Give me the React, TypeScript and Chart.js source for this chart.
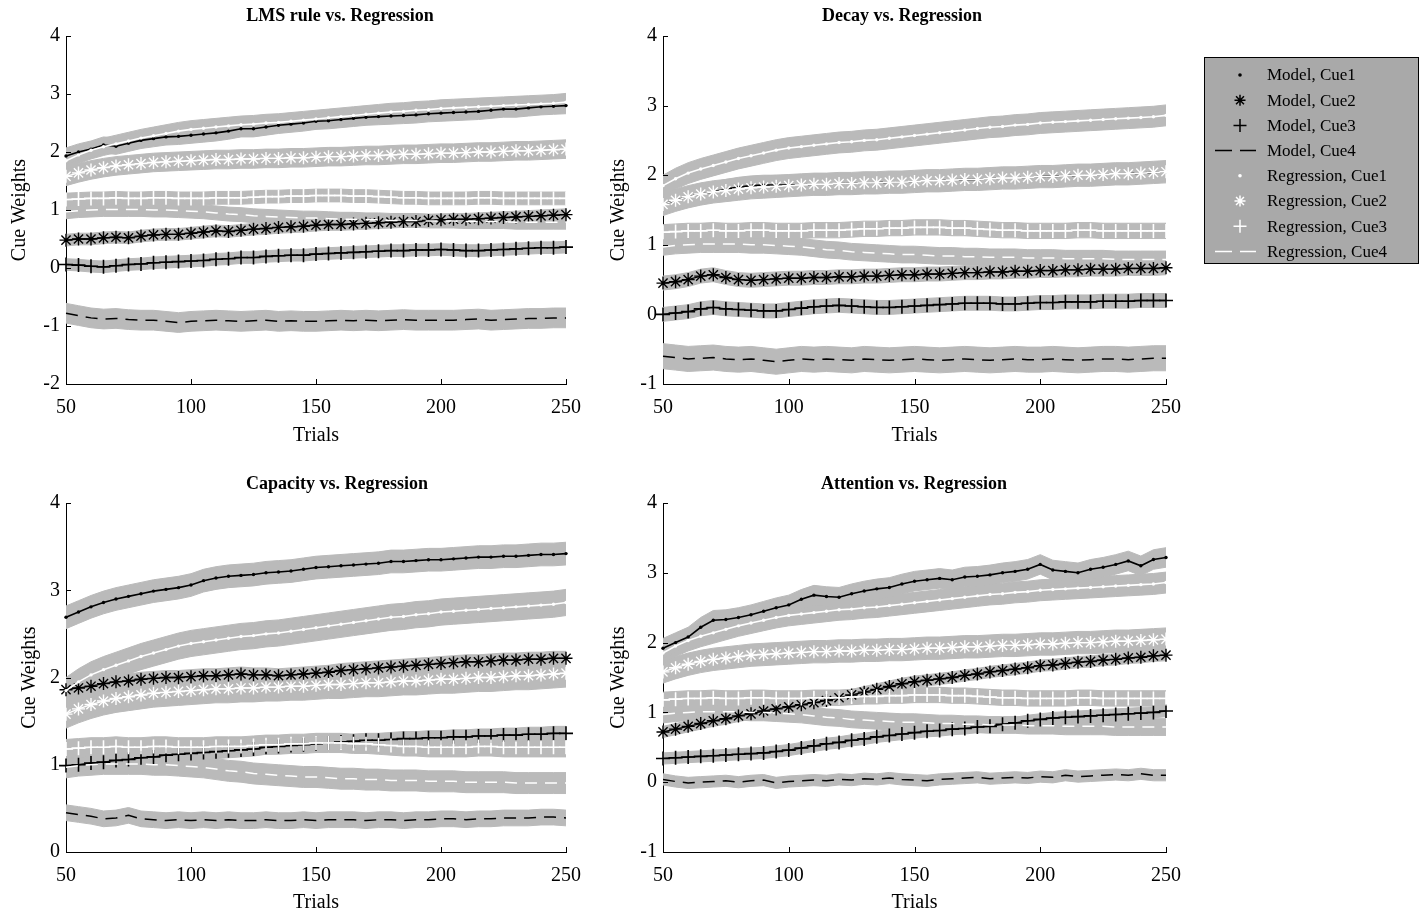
import React, { useEffect, useRef } from "react";
import { Chart, registerables } from "chart.js";

Chart.register(...registerables);

// ---------------- DATA ----------------
const TRIALS = [
  50, 55, 60, 65, 70, 75, 80, 85, 90, 95, 100, 105, 110, 115, 120, 125, 130, 135, 140, 145, 150,
  155, 160, 165, 170, 175, 180, 185, 190, 195, 200, 205, 210, 215, 220, 225, 230, 235, 240, 245, 250,
];
const X_TICKS = [50, 100, 150, 200, 250];

// Regression (same human-data fit in each panel)
const REG_CUE1 = [1.85, 1.95, 2.03, 2.09, 2.14, 2.19, 2.24, 2.28, 2.32, 2.36, 2.39, 2.41, 2.43, 2.45, 2.47, 2.48, 2.5, 2.51, 2.53, 2.55, 2.57, 2.59, 2.61, 2.63, 2.65, 2.67, 2.69, 2.7, 2.72, 2.73, 2.75, 2.76, 2.77, 2.78, 2.79, 2.8, 2.81, 2.82, 2.83, 2.84, 2.86];
const REG_CUE2 = [1.58, 1.64, 1.69, 1.73, 1.76, 1.78, 1.8, 1.82, 1.83, 1.84, 1.85, 1.86, 1.87, 1.87, 1.88, 1.88, 1.89, 1.89, 1.9, 1.9, 1.91, 1.92, 1.92, 1.93, 1.94, 1.94, 1.95, 1.96, 1.96, 1.97, 1.98, 1.98, 1.99, 2.0, 2.0, 2.01, 2.02, 2.02, 2.03, 2.04, 2.05];
const REG_CUE3 = [1.18, 1.19, 1.2, 1.2, 1.21, 1.2, 1.2, 1.21, 1.21, 1.2, 1.2, 1.2, 1.21, 1.21, 1.21, 1.22, 1.23, 1.23, 1.24, 1.24, 1.25, 1.25, 1.25, 1.24, 1.24, 1.23, 1.22, 1.21, 1.21, 1.2, 1.2, 1.2, 1.2, 1.21, 1.21, 1.2, 1.2, 1.2, 1.2, 1.2, 1.2];
const REG_CUE4 = [0.97, 0.99, 1.0, 1.01, 1.01, 1.01, 1.01, 1.0, 1.0, 0.99, 0.98, 0.97, 0.95, 0.93, 0.92, 0.9, 0.89, 0.88, 0.87, 0.86, 0.86, 0.85, 0.84, 0.84, 0.83, 0.83, 0.82, 0.82, 0.82, 0.81, 0.81, 0.81, 0.8, 0.8, 0.8, 0.8, 0.79, 0.79, 0.79, 0.79, 0.79];
const REG_ERR = [0.15, 0.16, 0.11, 0.12];

// LMS rule
const LMS_CUE1 = [1.93, 2.0, 2.05, 2.12, 2.1, 2.15, 2.2, 2.23, 2.26, 2.27, 2.29, 2.31, 2.33, 2.36, 2.4, 2.4, 2.43, 2.46, 2.48, 2.5, 2.53, 2.54, 2.56, 2.58, 2.6, 2.61, 2.62, 2.63, 2.64, 2.66, 2.67, 2.68, 2.69, 2.7, 2.72, 2.74, 2.74, 2.76, 2.78, 2.79, 2.8];
const LMS_CUE2 = [0.48, 0.5, 0.5, 0.52, 0.53, 0.52, 0.55, 0.57, 0.58, 0.58, 0.6, 0.62, 0.64, 0.63, 0.65, 0.67, 0.68, 0.7, 0.71, 0.72, 0.74, 0.75, 0.75, 0.76, 0.77, 0.78, 0.79, 0.8, 0.8, 0.82, 0.83, 0.84, 0.84, 0.85, 0.86, 0.87, 0.88, 0.89, 0.9, 0.91, 0.92];
const LMS_CUE3 = [0.06, 0.05, 0.03, 0.02, 0.04, 0.06, 0.07, 0.09, 0.1, 0.11, 0.12, 0.13, 0.15, 0.16, 0.18, 0.18, 0.2, 0.21, 0.22, 0.22, 0.24, 0.25, 0.26, 0.27, 0.28, 0.29, 0.3, 0.3, 0.31, 0.31, 0.32, 0.31, 0.3, 0.3, 0.31, 0.32, 0.33, 0.34, 0.35, 0.35, 0.36];
const LMS_CUE4 = [-0.78, -0.82, -0.86, -0.88, -0.87, -0.89, -0.9, -0.9, -0.92, -0.94, -0.92, -0.91, -0.9, -0.91, -0.92, -0.91, -0.9, -0.92, -0.91, -0.92, -0.92, -0.91, -0.9, -0.91, -0.9, -0.91, -0.9, -0.89, -0.9, -0.9, -0.9, -0.9, -0.89, -0.88, -0.9, -0.89, -0.88, -0.87, -0.87, -0.86, -0.86];
const LMS_ERR = [0.14, 0.1, 0.1, 0.17];

// Decay (model Cue1 lies under the Regression Cue2 markers, peeking out near trials 75-100)
const DECAY_CUE1 = [1.58, 1.64, 1.69, 1.73, 1.76, 1.8, 1.83, 1.85, 1.86, 1.86, 1.86, 1.86, 1.87, 1.87, 1.88, 1.88, 1.89, 1.89, 1.9, 1.9, 1.91, 1.92, 1.92, 1.93, 1.94, 1.94, 1.95, 1.96, 1.96, 1.97, 1.98, 1.98, 1.99, 2.0, 2.0, 2.01, 2.02, 2.02, 2.03, 2.04, 2.05];
const DECAY_CUE2 = [0.45, 0.47, 0.5, 0.55, 0.57, 0.53, 0.5, 0.49, 0.5, 0.51, 0.52, 0.52, 0.53, 0.53, 0.54, 0.54, 0.55, 0.55, 0.56, 0.57, 0.57, 0.58, 0.58, 0.59, 0.6, 0.6, 0.61, 0.61, 0.62, 0.62, 0.63, 0.63, 0.64, 0.64, 0.65, 0.65, 0.65, 0.66, 0.66, 0.66, 0.67];
const DECAY_CUE3 = [0.0, 0.02, 0.04, 0.08, 0.1, 0.08, 0.07, 0.06, 0.05, 0.05, 0.07, 0.09, 0.11, 0.12, 0.13, 0.12, 0.11, 0.1, 0.1, 0.11, 0.12, 0.13, 0.14, 0.15, 0.16, 0.16, 0.16, 0.15, 0.15, 0.16, 0.17, 0.17, 0.18, 0.18, 0.18, 0.19, 0.19, 0.19, 0.2, 0.2, 0.2];
const DECAY_CUE4 = [-0.6, -0.62, -0.64, -0.63, -0.62, -0.64, -0.65, -0.64, -0.66, -0.68, -0.66, -0.64, -0.65, -0.64, -0.65, -0.66, -0.64, -0.65, -0.66, -0.65, -0.64, -0.65, -0.66, -0.65, -0.64, -0.65, -0.66, -0.65, -0.64, -0.65, -0.65, -0.64, -0.65, -0.66, -0.65, -0.64, -0.64, -0.65, -0.64, -0.63, -0.63];
const DECAY_ERR = [0.14, 0.1, 0.1, 0.18];

// Capacity
const CAP_CUE1 = [2.69, 2.75, 2.81, 2.86, 2.9, 2.93, 2.96, 2.99, 3.01, 3.03, 3.06, 3.11, 3.14, 3.16, 3.17, 3.18, 3.2, 3.21, 3.22, 3.24, 3.26, 3.27, 3.28, 3.29, 3.3, 3.31, 3.33, 3.33, 3.34, 3.35, 3.35, 3.36, 3.37, 3.38, 3.38, 3.39, 3.39, 3.4, 3.41, 3.41, 3.42];
const CAP_CUE2 = [1.86, 1.88, 1.9, 1.93, 1.95, 1.96, 1.98, 1.99, 2.0, 2.0, 2.01, 2.02, 2.02, 2.03, 2.04, 2.03, 2.03, 2.02, 2.03, 2.04, 2.05, 2.06, 2.08, 2.09, 2.1, 2.11, 2.12, 2.13, 2.14, 2.15, 2.16, 2.17, 2.18, 2.18, 2.19, 2.2, 2.2, 2.21, 2.21, 2.22, 2.22];
const CAP_CUE3 = [0.99, 1.0, 1.02, 1.03, 1.05, 1.06, 1.08, 1.09, 1.11, 1.12, 1.13, 1.14, 1.15, 1.16, 1.17, 1.18, 1.2, 1.21, 1.22, 1.23, 1.24, 1.25, 1.26, 1.27, 1.28, 1.28, 1.29, 1.3, 1.3, 1.31, 1.31, 1.32, 1.32, 1.33, 1.33, 1.34, 1.34, 1.35, 1.35, 1.36, 1.36];
const CAP_CUE4 = [0.45, 0.43, 0.41, 0.38, 0.39, 0.42, 0.38, 0.37, 0.36, 0.37, 0.36, 0.37, 0.36, 0.37, 0.36, 0.36, 0.37, 0.36, 0.36, 0.37, 0.36, 0.37, 0.37, 0.37, 0.36, 0.37, 0.37, 0.36, 0.37, 0.37, 0.38, 0.38, 0.37, 0.38, 0.38, 0.39, 0.39, 0.39, 0.4, 0.4, 0.39];
const CAP_ERR = [0.13, 0.08, 0.08, 0.09];

// Attention
const ATT_CUE1 = [1.92, 2.0, 2.08, 2.22, 2.32, 2.33, 2.36, 2.4, 2.45, 2.5, 2.54, 2.62, 2.68, 2.66, 2.65, 2.7, 2.74, 2.77, 2.79, 2.84, 2.88, 2.9, 2.92, 2.9, 2.94, 2.95, 2.97, 3.0, 3.02, 3.05, 3.12, 3.04, 3.02, 3.0, 3.05, 3.08, 3.12, 3.17, 3.1, 3.19, 3.22];
const ATT_CUE2 = [0.72, 0.76, 0.8, 0.84, 0.88, 0.91, 0.95, 0.98, 1.02, 1.05, 1.08, 1.11, 1.14, 1.17, 1.21, 1.25, 1.29, 1.33, 1.37, 1.41, 1.44, 1.46, 1.48, 1.5, 1.53, 1.55, 1.58, 1.6, 1.62, 1.64, 1.67, 1.68, 1.7, 1.72, 1.73, 1.75, 1.76, 1.78, 1.79, 1.81, 1.82];
const ATT_CUE3 = [0.34, 0.35, 0.36, 0.37, 0.38, 0.39, 0.4, 0.41, 0.42, 0.44, 0.46, 0.49, 0.52, 0.55, 0.57, 0.6, 0.62, 0.65, 0.67, 0.69, 0.71, 0.73, 0.74, 0.76, 0.77, 0.79, 0.8, 0.83, 0.85, 0.88, 0.9, 0.92, 0.93, 0.94, 0.95, 0.96, 0.97, 0.98, 0.99, 1.0, 1.02];
const ATT_CUE4 = [0.04, 0.01, -0.01, 0.0, 0.01, 0.02, 0.0, 0.02, 0.03, -0.01, 0.01, 0.02, 0.03, 0.02, 0.04, 0.03, 0.05, 0.04, 0.06, 0.04, 0.03, 0.02, 0.04, 0.05, 0.06, 0.07, 0.05, 0.06, 0.07, 0.06, 0.08, 0.07, 0.1, 0.08, 0.09, 0.1, 0.11, 0.1, 0.12, 0.1, 0.1];
const ATT_ERR = [0.14, 0.08, 0.08, 0.08];

const LEGEND_LABELS = [
  "Model, Cue1", "Model, Cue2", "Model, Cue3", "Model, Cue4",
  "Regression, Cue1", "Regression, Cue2", "Regression, Cue3", "Regression, Cue4",
];

// ---------------- STYLE / LAYOUT ----------------
const FONT = "'Liberation Serif', 'Times New Roman', serif";
const BAND = "#bababa";
const MARKERS = ["dot", "star", "cross", "dash"];

const PANELS = [
  {
    title: "LMS rule vs. Regression", model: [LMS_CUE1, LMS_CUE2, LMS_CUE3, LMS_CUE4], err: LMS_ERR,
    yMin: -2, yMax: 4, box: { left: 0, top: 0, width: 600, height: 458 },
    area: { L: 66, T: 36, R: 566, B: 384 }, titleX: 340, titleY: 16, xTitleY: 436, yTitleX: 20, legend: false,
  },
  {
    title: "Decay vs. Regression", model: [DECAY_CUE1, DECAY_CUE2, DECAY_CUE3, DECAY_CUE4], err: DECAY_ERR,
    yMin: -1, yMax: 4, box: { left: 597, top: 0, width: 824, height: 458 },
    area: { L: 663, T: 36, R: 1166, B: 384 }, titleX: 902, titleY: 16, xTitleY: 436, yTitleX: 619, legend: true,
  },
  {
    title: "Capacity vs. Regression", model: [CAP_CUE1, CAP_CUE2, CAP_CUE3, CAP_CUE4], err: CAP_ERR,
    yMin: 0, yMax: 4, box: { left: 0, top: 458, width: 600, height: 459 },
    area: { L: 66, T: 503, R: 566, B: 852 }, titleX: 337, titleY: 484, xTitleY: 903, yTitleX: 30, legend: false,
  },
  {
    title: "Attention vs. Regression", model: [ATT_CUE1, ATT_CUE2, ATT_CUE3, ATT_CUE4], err: ATT_ERR,
    yMin: -1, yMax: 4, box: { left: 597, top: 458, width: 824, height: 459 },
    area: { L: 663, T: 503, R: 1166, B: 852 }, titleX: 914, titleY: 484, xTitleY: 903, yTitleX: 619, legend: false,
  },
];

function drawMarker(ctx: CanvasRenderingContext2D, kind: string, x: number, y: number, color: string) {
  ctx.save();
  ctx.strokeStyle = color;
  ctx.fillStyle = color;
  ctx.lineWidth = 1.5;
  if (kind === "dot") {
    ctx.beginPath();
    ctx.arc(x, y, 1.8, 0, Math.PI * 2);
    ctx.fill();
  } else if (kind === "star") {
    const r = 5.5;
    const d = r * 0.72;
    ctx.beginPath();
    ctx.moveTo(x - r, y); ctx.lineTo(x + r, y);
    ctx.moveTo(x, y - r); ctx.lineTo(x, y + r);
    ctx.moveTo(x - d, y - d); ctx.lineTo(x + d, y + d);
    ctx.moveTo(x - d, y + d); ctx.lineTo(x + d, y - d);
    ctx.stroke();
  } else if (kind === "cross") {
    const r = 6.5;
    ctx.beginPath();
    ctx.moveTo(x - r, y); ctx.lineTo(x + r, y);
    ctx.moveTo(x, y - r); ctx.lineTo(x, y + r);
    ctx.stroke();
  } else {
    ctx.lineWidth = 1.5;
    ctx.beginPath();
    ctx.moveTo(x - 25, y); ctx.lineTo(x - 8, y);
    ctx.moveTo(x + 0, y); ctx.lineTo(x + 16, y);
    ctx.stroke();
  }
  ctx.restore();
}

const decorPlugin = {
  id: "decor",
  afterDraw(chart: any, _args: any, opts: any) {
    const { ctx, chartArea: a, scales } = chart;
    const p = opts.panel;
    const ox = p.box.left;
    const oy = p.box.top;
    ctx.save();
    ctx.strokeStyle = "#000";
    ctx.lineWidth = 1;
    ctx.beginPath();
    X_TICKS.forEach((v) => {
      const x = Math.round(scales.x.getPixelForValue(v)) + 0.5;
      ctx.moveTo(x, a.bottom);
      ctx.lineTo(x, a.bottom - 5);
    });
    for (let v = p.yMin; v <= p.yMax; v++) {
      const y = Math.round(scales.y.getPixelForValue(v)) + 0.5;
      ctx.moveTo(a.left, y);
      ctx.lineTo(a.left + 5, y);
    }
    ctx.stroke();

    ctx.fillStyle = "#000";
    ctx.textAlign = "center";
    ctx.textBaseline = "middle";
    ctx.font = `bold 18px ${FONT}`;
    ctx.fillText(p.title, p.titleX - ox, p.titleY - oy);
    ctx.font = `20px ${FONT}`;
    ctx.fillText("Trials", (p.area.L + p.area.R) / 2 - ox, p.xTitleY - oy);
    ctx.save();
    ctx.translate(p.yTitleX - ox, (p.area.T + p.area.B) / 2 - oy);
    ctx.rotate(-Math.PI / 2);
    ctx.fillText("Cue Weights", 0, 0);
    ctx.restore();

    if (p.legend) {
      const lx = 1204 - ox;
      const ly = 57 - oy;
      const lw = 214;
      const lh = 206;
      ctx.fillStyle = "#a9a9a9";
      ctx.fillRect(lx, ly, lw, lh);
      ctx.strokeStyle = "#000";
      ctx.lineWidth = 1;
      ctx.strokeRect(lx + 0.5, ly + 0.5, lw, lh);
      ctx.font = `17px ${FONT}`;
      ctx.textAlign = "left";
      ctx.textBaseline = "middle";
      LEGEND_LABELS.forEach((label, i) => {
        const y = ly + 18 + i * 25.2;
        const color = i < 4 ? "#000" : "#fff";
        drawMarker(ctx, MARKERS[i % 4], lx + 36, y, color);
        ctx.fillStyle = "#000";
        ctx.fillText(label, lx + 63, y + 1);
      });
    }
    ctx.restore();
  },
};

function lineStyle(kind: string, color: string) {
  const base: any = {
    borderColor: color,
    backgroundColor: color,
    pointBackgroundColor: color,
    pointBorderColor: color,
    fill: false,
    tension: 0,
    clip: false,
  };
  if (kind === "dot") return { ...base, borderWidth: 1.6, pointStyle: "circle", pointRadius: 1.7, pointBorderWidth: 0 };
  if (kind === "star") return { ...base, borderWidth: 1.3, pointStyle: "star", pointRadius: 6.5, pointBorderWidth: 1.4 };
  if (kind === "cross") return { ...base, borderWidth: 1.3, pointStyle: "cross", pointRadius: 7, pointBorderWidth: 1.6 };
  return { ...base, borderWidth: 1.5, borderDash: [12, 8], pointRadius: 0 };
}

function buildDatasets(p: any) {
  const toXY = (vals: number[], off: number) => TRIALS.map((t, i) => ({ x: t, y: vals[i] + off }));
  const series = [
    ...p.model.map((vals: number[], k: number) => ({ vals, err: p.err[k], kind: MARKERS[k], color: "#000", order: 2 })),
    ...[REG_CUE1, REG_CUE2, REG_CUE3, REG_CUE4].map((vals, k) => ({ vals, err: REG_ERR[k], kind: MARKERS[k], color: "#fff", order: 1 })),
  ];
  const ds: any[] = [];
  series.forEach((s) => {
    ds.push({
      data: toXY(s.vals, s.err), borderColor: BAND, backgroundColor: BAND, borderWidth: 1,
      pointRadius: 0, fill: "+1", order: 3, tension: 0,
    });
    ds.push({
      data: toXY(s.vals, -s.err), borderColor: BAND, backgroundColor: BAND, borderWidth: 1,
      pointRadius: 0, fill: false, order: 3, tension: 0,
    });
  });
  series.forEach((s) => {
    ds.push({ data: toXY(s.vals, 0), order: s.order, ...lineStyle(s.kind, s.color) });
  });
  return ds;
}

function Panel({ p }: { p: any }) {
  const ref = useRef<HTMLCanvasElement | null>(null);
  useEffect(() => {
    if (!ref.current) return;
    const tickFont = { family: FONT, size: 20 };
    const chart = new Chart(ref.current, {
      type: "line",
      data: { datasets: buildDatasets(p) },
      options: {
        animation: false,
        responsive: false,
        maintainAspectRatio: false,
        devicePixelRatio: 1,
        events: [],
        layout: {
          padding: { top: p.area.T - p.box.top, right: p.box.left + p.box.width - p.area.R, left: 0, bottom: 0 },
        },
        plugins: {
          legend: { display: false },
          tooltip: { enabled: false },
          title: { display: false },
          decor: { panel: p },
        } as any,
        scales: {
          x: {
            type: "linear",
            min: 50,
            max: 250,
            afterFit: (s: any) => { s.height = p.box.top + p.box.height - p.area.B; },
            afterBuildTicks: (s: any) => { s.ticks = X_TICKS.map((v) => ({ value: v })); },
            ticks: { font: tickFont, color: "#000", padding: 12, maxRotation: 0, autoSkip: false },
            grid: { drawOnChartArea: false, drawTicks: false },
            border: { display: true, color: "#000", width: 1 },
          },
          y: {
            type: "linear",
            min: p.yMin,
            max: p.yMax,
            afterFit: (s: any) => { s.width = p.area.L - p.box.left; },
            ticks: { stepSize: 1, font: tickFont, color: "#000", padding: 6 },
            grid: { drawOnChartArea: false, drawTicks: false },
            border: { display: true, color: "#000", width: 1 },
          },
        },
      } as any,
      plugins: [decorPlugin as any],
    });
    return () => chart.destroy();
  }, [p]);
  return (
    <canvas
      ref={ref}
      width={p.box.width}
      height={p.box.height}
      style={{ position: "absolute", left: p.box.left, top: p.box.top, width: p.box.width, height: p.box.height }}
    />
  );
}

export default function App() {
  return (
    <div style={{ position: "absolute", left: 0, top: 0, width: 1421, height: 917, background: "#fff", overflow: "hidden" }}>
      {PANELS.map((p, i) => (
        <Panel key={i} p={p} />
      ))}
    </div>
  );
}
